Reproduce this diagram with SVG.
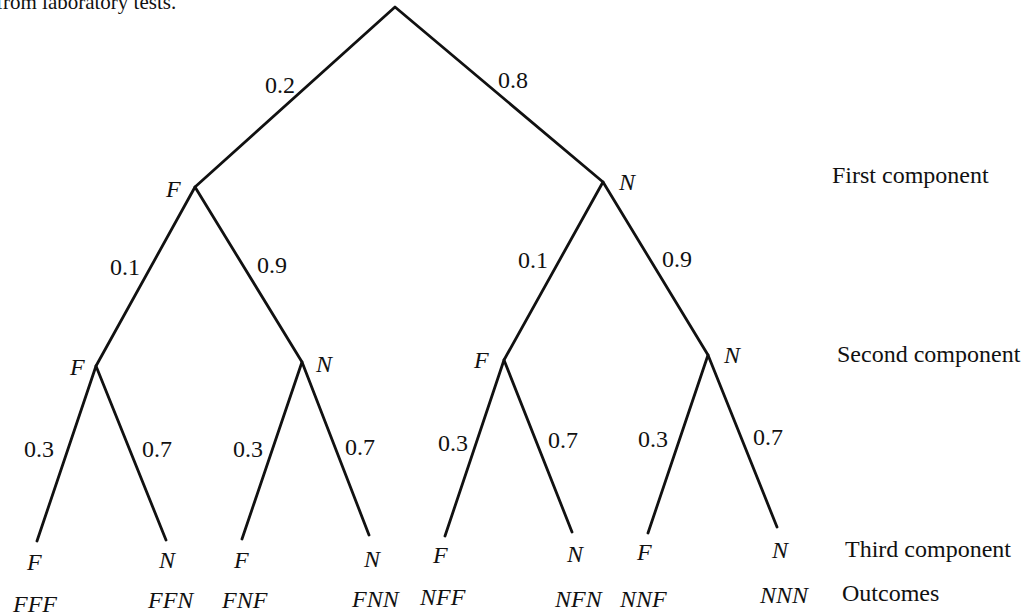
<svg xmlns="http://www.w3.org/2000/svg" width="1026" height="615" viewBox="0 0 1026 615">
<style>
text{font-family:"Liberation Serif","Times New Roman",serif;font-size:24px;fill:#111}
.i{font-style:italic}
.e{stroke:#111;stroke-width:2.8;fill:none;stroke-linecap:round;stroke-linejoin:round}
</style>
<rect width="1026" height="615" fill="#fff"/>
<text x="-4" y="9" style="font-size:21px">from laboratory tests.</text>
<g id="connectors">
<polyline class="e" points="195,187 395,7 603,182"/>
<polyline class="e" points="96,366 195,187 302,362"/>
<polyline class="e" points="504,360 603,182 708,355"/>
<polyline class="e" points="37,541 96,366 166,540"/>
<polyline class="e" points="242,539 302,362 369,535"/>
<polyline class="e" points="445,536 504,360 572,532"/>
<polyline class="e" points="648,533 708,355 777,527"/>
</g>
<g id="edge-labels">
<text x="265" y="93">0.2</text>
<text x="498" y="88">0.8</text>
<text x="110" y="275">0.1</text>
<text x="257" y="273">0.9</text>
<text x="518" y="268">0.1</text>
<text x="662" y="267">0.9</text>
<text x="24" y="457">0.3</text>
<text x="142" y="457">0.7</text>
<text x="233" y="457">0.3</text>
<text x="345" y="455">0.7</text>
<text x="438" y="451">0.3</text>
<text x="548" y="448">0.7</text>
<text x="638" y="447">0.3</text>
<text x="753" y="445">0.7</text>
</g>
<g id="node-F1"><text class="i" x="166" y="197">F</text></g>
<g id="node-N1"><text class="i" x="619" y="190">N</text></g>
<g id="node-FF"><text class="i" x="70" y="375">F</text></g>
<g id="node-FN"><text class="i" x="316" y="372">N</text></g>
<g id="node-NF"><text class="i" x="474" y="368">F</text></g>
<g id="node-NN"><text class="i" x="724" y="363">N</text></g>
<g id="leaf-FFF"><text class="i" x="27" y="570">F</text><text class="i" x="13" y="612">FFF</text></g>
<g id="leaf-FFN"><text class="i" x="159" y="568">N</text><text class="i" x="148" y="608">FFN</text></g>
<g id="leaf-FNF"><text class="i" x="234" y="568">F</text><text class="i" x="222" y="608">FNF</text></g>
<g id="leaf-FNN"><text class="i" x="364" y="567">N</text><text class="i" x="352" y="607">FNN</text></g>
<g id="leaf-NFF"><text class="i" x="433" y="563">F</text><text class="i" x="420" y="605">NFF</text></g>
<g id="leaf-NFN"><text class="i" x="567" y="562">N</text><text class="i" x="555" y="607">NFN</text></g>
<g id="leaf-NNF"><text class="i" x="637" y="560">F</text><text class="i" x="620" y="607">NNF</text></g>
<g id="leaf-NNN"><text class="i" x="772" y="558">N</text><text class="i" x="760" y="603">NNN</text></g>
<g id="level-labels">
<text x="832" y="183">First component</text>
<text x="837" y="362">Second component</text>
<text x="845" y="557">Third component</text>
<text x="842" y="601">Outcomes</text>
</g>
</svg>
